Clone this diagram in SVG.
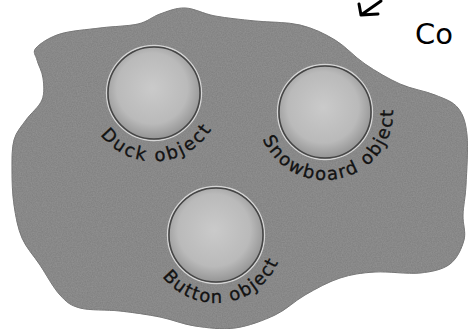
<svg xmlns="http://www.w3.org/2000/svg" width="470" height="329" viewBox="0 0 470 329">
  <style>
    .lbl { font-family: "DejaVu Sans", "Noto Sans", sans-serif; font-size: 18px; fill: #121212; stroke: #121212; stroke-width: 0.35; }
    .disc { fill: url(#discGrad); stroke: #454545; stroke-width: 1.5; }
    .rim { fill: none; stroke: #d6d6d6; stroke-width: 1.3; }
    .note { font-family: "DejaVu Sans", "Noto Sans", sans-serif; font-size: 29px; fill: #000; }
  </style>
  <defs>
    <radialGradient id="discGrad" cx="48%" cy="45%" r="55%">
      <stop offset="0%" stop-color="#cacaca"/>
      <stop offset="70%" stop-color="#bababa"/>
      <stop offset="100%" stop-color="#959595"/>
    </radialGradient>
    <filter id="grain" x="0" y="0" width="100%" height="100%">
      <feTurbulence type="fractalNoise" baseFrequency="0.8" numOctaves="2" seed="3" result="n"/>
      <feColorMatrix in="n" type="matrix" values="0 0 0 0 0.45  0 0 0 0 0.45  0 0 0 0 0.45  0 0 0 0.35 0" result="g"/>
      <feComposite in="g" in2="SourceGraphic" operator="in" result="gc"/>
      <feMerge><feMergeNode in="SourceGraphic"/><feMergeNode in="gc"/></feMerge>
    </filter>
    <path id="arcDuck" d="M87,104.8 A68,68 0 0,0 221,104.8"/>
    <path id="arcSnow" d="M257.3,117.9 A68,68 0 1,0 392,100.2"/>
    <path id="arcButton" d="M149,246.8 A68,68 0 0,0 283.7,229.1"/>
  </defs>
  <rect width="470" height="329" fill="#ffffff"/>

  <g id="heap">
    <path filter="url(#grain)" fill="#7e7e7e" stroke="#666666" stroke-width="1" d="M36,48 C39.8,43.7 49.3,37.3 60,34 C70.7,30.7 87,29.7 100,28 C113,26.3 128,26.3 138,24 C148,21.7 152.2,16.7 160,14 C167.8,11.3 175.8,7.7 185,8 C194.2,8.3 203.3,13.8 215,16 C226.7,18.2 240.8,19.5 255,21 C269.2,22.5 286.7,21.8 300,25 C313.3,28.2 324.2,33.5 335,40 C345.8,46.5 354.2,56.7 365,64 C375.8,71.3 388.3,78.8 400,84 C411.7,89.2 425.3,91 435,95 C444.7,99 452.7,101.3 458,108 C463.3,114.7 465.7,122.2 467,135 C468.3,147.8 466.7,171.7 466,185 C465.3,198.3 463.3,205.8 463,215 C462.7,224.2 466.2,231.8 464,240 C461.8,248.2 457.3,258.5 450,264 C442.7,269.5 432.5,271.7 420,273 C407.5,274.3 388.3,271.2 375,272 C361.7,272.8 351.7,274.2 340,278 C328.3,281.8 315.8,288.8 305,295 C294.2,301.2 286.7,309.5 275,315 C263.3,320.5 248.3,326.2 235,328 C221.7,329.8 207.5,327.8 195,326 C182.5,324.2 172.5,319.5 160,317 C147.5,314.5 133.3,312.5 120,311 C106.7,309.5 90,310.7 80,308 C70,305.3 66.7,302.2 60,295 C53.3,287.8 46.3,274.5 40,265 C33.7,255.5 26.3,248 22,238 C17.7,228 15.7,216.3 14,205 C12.3,193.7 12,180.8 12,170 C12,159.2 11.7,148.3 14,140 C16.3,131.7 21.3,126.7 26,120 C30.7,113.3 39.2,107 42,100 C44.8,93 43.8,84.7 43,78 C42.2,71.3 38.2,65 37,60 C35.8,55 32.2,52.3 36,48 Z"/>
  </g>

  <g id="node-duck">
    <circle class="rim" cx="154" cy="93" r="47.5"/>
    <circle class="disc" cx="154" cy="93" r="46"/>
    <text class="lbl"><textPath href="#arcDuck" startOffset="51.6%" text-anchor="middle" textLength="130">Duck object</textPath></text>
  </g>

  <g id="node-snowboard">
    <circle class="rim" cx="325" cy="112" r="47.5"/>
    <circle class="disc" cx="325" cy="112" r="46"/>
    <text class="lbl"><textPath href="#arcSnow" startOffset="52.7%" text-anchor="middle" textLength="188">Snowboard object</textPath></text>
  </g>

  <g id="node-button">
    <circle class="rim" cx="216" cy="235" r="48.5"/>
    <circle class="disc" cx="216" cy="235" r="47"/>
    <text class="lbl"><textPath href="#arcButton" startOffset="49.7%" text-anchor="middle" textLength="140">Button object</textPath></text>
  </g>

  <g id="connectors">
    <path d="M381,1 L361,15 M359,4 L361,15 L378,14" fill="none" stroke="#000" stroke-width="3" stroke-linecap="round" stroke-linejoin="round"/>
  </g>

  <g id="annotation">
    <text class="note" x="415" y="44">Co</text>
  </g>
</svg>
